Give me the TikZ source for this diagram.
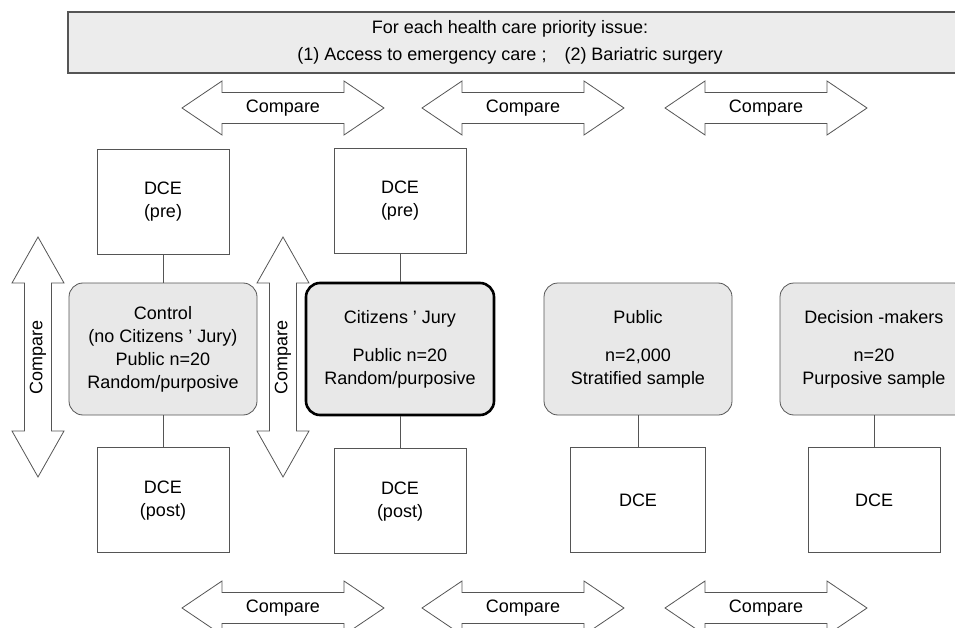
\documentclass[tikz,border=0pt]{standalone}
\usepackage{fontspec}
\setmainfont{Liberation Sans}
\usetikzlibrary{positioning}
\definecolor{boxgray}{HTML}{E8E8E8}
\definecolor{bannergray}{HTML}{ECECEC}
\definecolor{linegray}{HTML}{555555}
\tikzset{
  dcebox/.style={draw=linegray, line width=0.8pt, minimum width=132pt, minimum height=105pt, align=center, inner sep=0pt},
  groupbox/.style={draw=linegray, line width=0.8pt, fill=boxgray, rounded corners=14pt, minimum width=188pt, minimum height=132pt, align=center, inner sep=0pt},
  jurybox/.style={groupbox, draw=black, line width=2.6pt},
  link/.style={draw=linegray, line width=0.8pt},
  cmparrow/.style={draw=linegray, line width=0.8pt, fill=white},
}
\begin{document}
\begin{tikzpicture}[x=1pt,y=-1pt,font=\fontsize{18}{23}\selectfont]
  \useasboundingbox (0,0) rectangle (955,628);
  \clip (0,0) rectangle (955,628);

  % banner
  \fill[bannergray] (68,12) rectangle (965,73);
  \draw[linegray, line width=1.6pt] (965,12) -- (68,12) -- (68,73) -- (965,73);
  \node[align=center] (issue) at (510,42) {For each health care priority issue:\\[4pt](1) Access to emergency care ;\quad (2) Bariatric surgery};

  % groups
  \node[groupbox] (control) at (163,349) {Control\\(no Citizens ' Jury)\\Public n=20\\Random/purposive};
  \node[jurybox] (jury) at (400,349) {Citizens ' Jury\\[15pt]Public n=20\\Random/purposive};
  \node[groupbox] (public) at (638,349) {Public\\[15pt]n=2,000\\Stratified sample};
  \node[groupbox] (decision) at (874,349) {Decision -makers\\[15pt]n=20\\Purposive sample};

  % DCE boxes
  \node[dcebox, above=28pt of control] (controlpre) {DCE\\(pre)};
  \node[dcebox, below=32pt of control] (controlpost) {DCE\\(post)};
  \node[dcebox, above=28pt of jury] (jurypre) {DCE\\(pre)};
  \node[dcebox, below=32pt of jury] (jurypost) {DCE\\(post)};
  \node[dcebox, minimum width=135pt, below=32pt of public] (publicdce) {DCE};
  \node[dcebox, below=32pt of decision] (decisiondce) {DCE};

  \draw[link] (controlpre) -- (control);
  \draw[link] (control) -- (controlpost);
  \draw[link] (jurypre) -- (jury);
  \draw[link] (jury) -- (jurypost);
  \draw[link] (public) -- (publicdce);
  \draw[link] (decision) -- (decisiondce);

  % compare arrows, horizontal
  \foreach \cx/\i in {283/1,523/2,766/3}{
    \foreach \cy/\r in {108/top,608/bot}{
      \draw[cmparrow] (\cx-101,\cy) -- (\cx-61,\cy-27) -- (\cx-61,\cy-15.5) -- (\cx+61,\cy-15.5)
        -- (\cx+61,\cy-27) -- (\cx+101,\cy) -- (\cx+61,\cy+27) -- (\cx+61,\cy+15.5)
        -- (\cx-61,\cy+15.5) -- (\cx-61,\cy+27) -- cycle;
      \node (cmp\r\i) at (\cx,\cy) {Compare};
    }
  }
  % compare arrows, vertical
  \foreach \cx/\i in {38/1,283/2}{
    \draw[cmparrow] (\cx,237) -- (\cx+26,283) -- (\cx+13.5,283) -- (\cx+13.5,431) -- (\cx+26,431)
      -- (\cx,477) -- (\cx-26,431) -- (\cx-13.5,431) -- (\cx-13.5,283) -- (\cx-26,283) -- cycle;
    \node[rotate=90] (cmpside\i) at (\cx,357) {Compare};
  }
\end{tikzpicture}
\end{document}
